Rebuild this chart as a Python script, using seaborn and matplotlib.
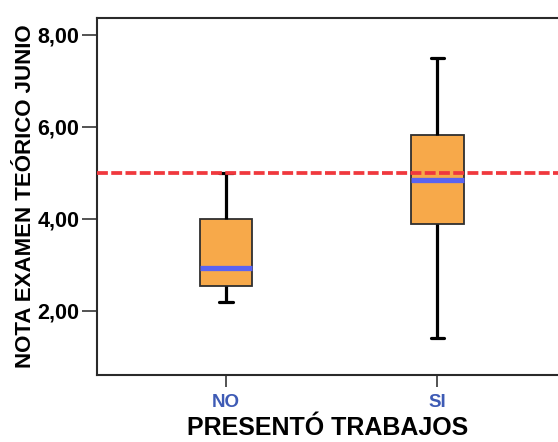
import matplotlib
matplotlib.use("Agg")
import matplotlib.pyplot as plt
import seaborn as sns
import pandas as pd

# Five-number summaries (min, Q1, median, Q3, max)
categories = ["NO", "SI"]
no_values = [2.20, 2.54, 2.94, 4.00, 5.00]
si_values = [1.40, 3.88, 4.84, 5.83, 7.49]
threshold = 5.0
y_ticks = [2, 4, 6, 8]
y_tick_labels = ["2,00", "4,00", "6,00", "8,00"]
x_title = "PRESENTÓ TRABAJOS"
y_title = "NOTA EXAMEN TEÓRICO JUNIO"

df = pd.DataFrame({
    "grupo": [categories[0]] * len(no_values) + [categories[1]] * len(si_values),
    "nota": no_values + si_values,
})

sns.set_style("ticks")
plt.rcParams["font.family"] = ["Liberation Sans", "DejaVu Sans"]
plt.rcParams["font.weight"] = "bold"

fig = plt.figure(figsize=(5.58, 4.42), dpi=100)
ax = fig.add_axes([97 / 558, 1 - 375 / 442, 1 - 97 / 558, (375 - 17.5) / 442])

sns.boxplot(
    data=df, x="grupo", y="nota", order=categories, ax=ax,
    width=0.25, whis=(0, 100), color="#F7A94A", saturation=1,
    linecolor="#2f2f2f", linewidth=1.3,
    medianprops=dict(color="#5A63F2", linewidth=3.8),
    whiskerprops=dict(color="black", linewidth=2.3),
    capprops=dict(color="black", linewidth=2.3),
    capwidths=0.065,
)

ax.axhline(threshold, color="#F0383D", linewidth=2.7, dashes=(2.9, 0.9), zorder=5)

ax.set_xlim(-0.610, 1.570)
ax.set_ylim(0.602, 8.38)
ax.set_yticks(y_ticks)
ax.set_yticklabels(y_tick_labels, fontsize=15.5, fontweight="bold", color="black")
ax.set_xticks(range(len(categories)))
ax.set_xticklabels(categories, fontsize=13.5, fontweight="bold", color="#3E5BB5")

ax.tick_params(axis="y", length=10.8, width=1.3, color="#444444", pad=2)
ax.tick_params(axis="x", length=8.6, width=1.3, color="#444444", pad=5)

for side in ["left", "bottom", "top"]:
    ax.spines[side].set_visible(True)
    ax.spines[side].set_linewidth(1.5)
    ax.spines[side].set_color("#2a2a2a")
ax.spines["right"].set_visible(False)

ax.set_xlabel(x_title, fontsize=18, fontweight="bold", color="black", labelpad=4)
ax.set_ylabel(y_title, fontsize=16, fontweight="bold", color="black", labelpad=1)

fig.savefig("out.png", dpi=100)
